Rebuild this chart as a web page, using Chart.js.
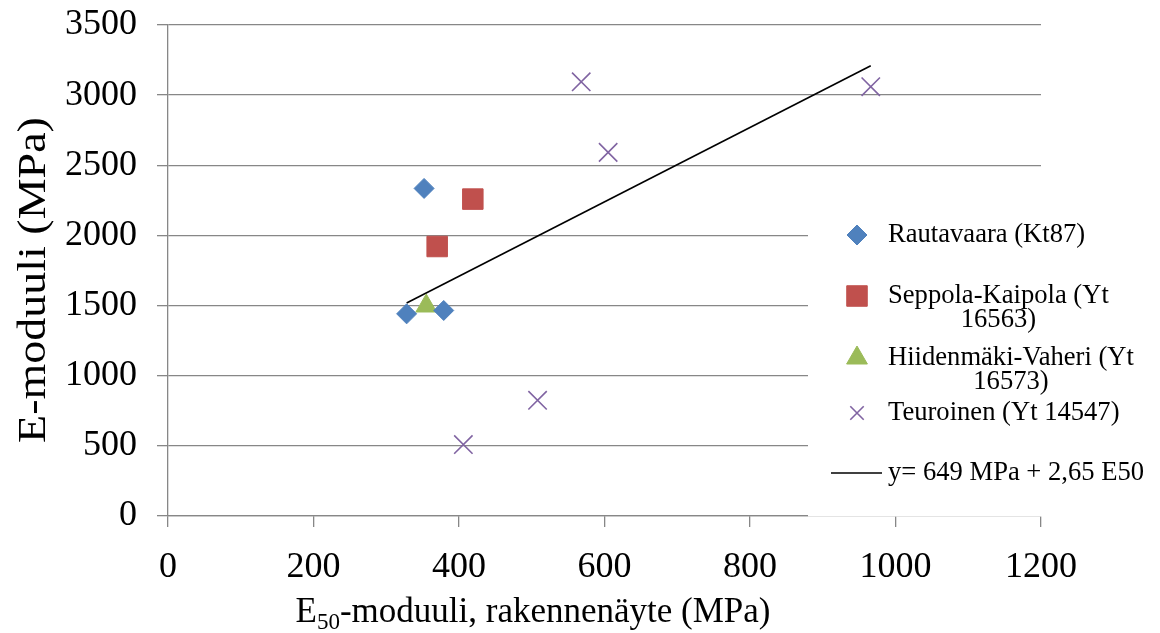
<!DOCTYPE html>
<html>
<head>
<meta charset="utf-8">
<script src="https://cdn.jsdelivr.net/npm/chart.js@4.4.1/dist/chart.umd.min.js"></script>
<style>
html,body{margin:0;padding:0;background:#fff;}
#wrap{width:1160px;height:633px;position:relative;}
</style>
</head>
<body>
<div id="wrap"><canvas id="c" width="1160" height="633"></canvas></div>
<script>
// ---- data ----
const rautavaaraX = [352, 328, 379];
const rautavaaraY = [2335, 1441, 1465];
const seppolaX = [419, 370];
const seppolaY = [2259, 1921];
const hiidenmakiX = [355];
const hiidenmakiY = [1497];
const teuroinenX = [406, 508, 568, 605, 966];
const teuroinenY = [509, 825, 3095, 2592, 3060];
const trendX = [328, 966];
const trendY = [1518, 3209];
const xTicks = [0, 200, 400, 600, 800, 1000, 1200];
const yTicks = [0, 500, 1000, 1500, 2000, 2500, 3000, 3500];
const seriesNames = ['Rautavaara (Kt87)', 'Seppola-Kaipola (Yt 16563)', 'Hiidenmäki-Vaheri (Yt 16573)', 'Teuroinen (Yt 14547)', 'y= 649 MPa + 2,65 E50'];
const xTitle = ['E', '50', '-moduuli, rakennenäyte (MPa)'];
const yTitle = 'E-moduuli (MPa)';

const colors = {blue:'#4F81BD', red:'#C0504D', green:'#9BBB59', purple:'#8064A2', grid:'#878787'};
const FONT = '"Liberation Serif", "Times New Roman", serif';

const pts = (xs, ys) => xs.map((x, i) => ({x, y: ys[i]}));

const overlay = {
  id: 'overlay',
  afterDraw(chart) {
    const ctx = chart.ctx;
    ctx.save();
    // legend box (white, covering part of plot)
    ctx.fillStyle = '#fff';
    ctx.fillRect(808, 190, 352, 326.5);
    // legend items
    const mx = 857, tx = 888;
    ctx.font = '26.6px ' + FONT;
    ctx.textBaseline = 'middle';
    ctx.textAlign = 'left';
    const items = [
      {style:'rectRot', r:10, color:colors.blue, y:235, lines:['Rautavaara (Kt87)']},
      {style:'rect', r:14.5, color:colors.red, y:296, lines:['Seppola-Kaipola (Yt', '16563)']},
      {style:'triangle', r:12, color:colors.green, y:358, lines:['Hiidenmäki-Vaheri (Yt', '16573)']},
      {style:'crossRot', r:9.5, color:colors.purple, y:413, lines:['Teuroinen (Yt 14547)']},
    ];
    items.forEach(it => {
      ctx.fillStyle = it.color; ctx.strokeStyle = it.color;
      ctx.lineWidth = it.style === 'crossRot' ? 1.6 : 1;
      Chart.helpers.drawPoint(ctx, {pointStyle: it.style, radius: it.r, borderWidth: ctx.lineWidth}, mx, it.y);
      ctx.fillStyle = '#000';
      const w0 = ctx.measureText(it.lines[0]).width;
      ctx.fillText(it.lines[0], tx, it.y);
      if (it.lines[1]) {
        ctx.textAlign = 'center';
        ctx.fillText(it.lines[1], tx + w0 / 2, it.y + 24);
        ctx.textAlign = 'left';
      }
    });
    ctx.strokeStyle = '#000'; ctx.lineWidth = 1.5;
    ctx.beginPath(); ctx.moveTo(831, 473); ctx.lineTo(882, 473); ctx.stroke();
    ctx.fillStyle = '#000';
    ctx.fillText(seriesNames[4], tx, 473);

    // y title
    ctx.save();
    ctx.translate(45, 280);
    ctx.rotate(-Math.PI / 2);
    ctx.scale(1.15, 1);
    ctx.font = '40px ' + FONT;
    ctx.textAlign = 'center';
    ctx.textBaseline = 'alphabetic';
    ctx.fillText(yTitle, 0, 0);
    ctx.restore();

    // x title with subscript
    ctx.textBaseline = 'alphabetic';
    ctx.textAlign = 'left';
    const big = '35px ' + FONT, small = '23px ' + FONT;
    ctx.font = big; const w1 = ctx.measureText(xTitle[0]).width;
    ctx.font = small; const w2 = ctx.measureText(xTitle[1]).width;
    ctx.font = big; const w3 = ctx.measureText(xTitle[2]).width;
    let x0 = 533 - (w1 + w2 + w3) / 2;
    const by = 622;
    ctx.font = big; ctx.fillText(xTitle[0], x0, by); x0 += w1;
    ctx.font = small; ctx.fillText(xTitle[1], x0, by + 7); x0 += w2;
    ctx.font = big; ctx.fillText(xTitle[2], x0, by);
    ctx.restore();
  }
};

new Chart(document.getElementById('c'), {
  type: 'scatter',
  data: {
    datasets: [
      {label: seriesNames[4], data: pts(trendX, trendY), showLine: true, borderColor: '#000', borderWidth: 1.6, pointRadius: 0, order: 5},
      {label: seriesNames[0], data: pts(rautavaaraX, rautavaaraY), pointStyle: 'rectRot', pointRadius: 10, backgroundColor: colors.blue, borderColor: colors.blue, borderWidth: 1},
      {label: seriesNames[1], data: pts(seppolaX, seppolaY), pointStyle: 'rect', pointRadius: 14.5, backgroundColor: colors.red, borderColor: colors.red, borderWidth: 1},
      {label: seriesNames[2], data: pts(hiidenmakiX, hiidenmakiY), pointStyle: 'triangle', pointRadius: 12, backgroundColor: colors.green, borderColor: colors.green, borderWidth: 1},
      {label: seriesNames[3], data: pts(teuroinenX, teuroinenY), pointStyle: 'crossRot', pointRadius: 13, backgroundColor: colors.purple, borderColor: colors.purple, borderWidth: 1.6},
    ]
  },
  options: {
    responsive: false,
    animation: false,
    events: [],
    layout: {padding: {top: 25, right: 119, left: 0, bottom: 0}},
    plugins: {legend: {display: false}, tooltip: {enabled: false}},
    scales: {
      x: {
        type: 'linear', min: 0, max: 1200,
        afterBuildTicks: s => { s.ticks = xTicks.map(v => ({value: v})); },
        afterFit: s => { s.height = 117; s.paddingLeft = 0; s.paddingRight = 0; },
        grid: {drawOnChartArea: false, drawTicks: true, tickLength: 11, color: colors.grid, lineWidth: 1.3},
        border: {color: colors.grid, width: 1.3},
        ticks: {font: {family: FONT, size: 36}, color: '#000', padding: 19, maxRotation: 0, autoSkip: false, callback: v => String(v)}
      },
      y: {
        type: 'linear', min: 0, max: 3500,
        afterBuildTicks: s => { s.ticks = yTicks.map(v => ({value: v})); },
        afterFit: s => { s.width = 168; s.paddingTop = 0; s.paddingBottom = 0; },
        grid: {drawOnChartArea: true, drawTicks: true, tickLength: 11, color: colors.grid, lineWidth: 1.3},
        border: {color: colors.grid, width: 1.3},
        ticks: {font: {family: FONT, size: 36}, color: '#000', padding: 20, autoSkip: false, callback: v => String(v)}
      }
    }
  },
  plugins: [overlay]
});
</script>
</body>
</html>
